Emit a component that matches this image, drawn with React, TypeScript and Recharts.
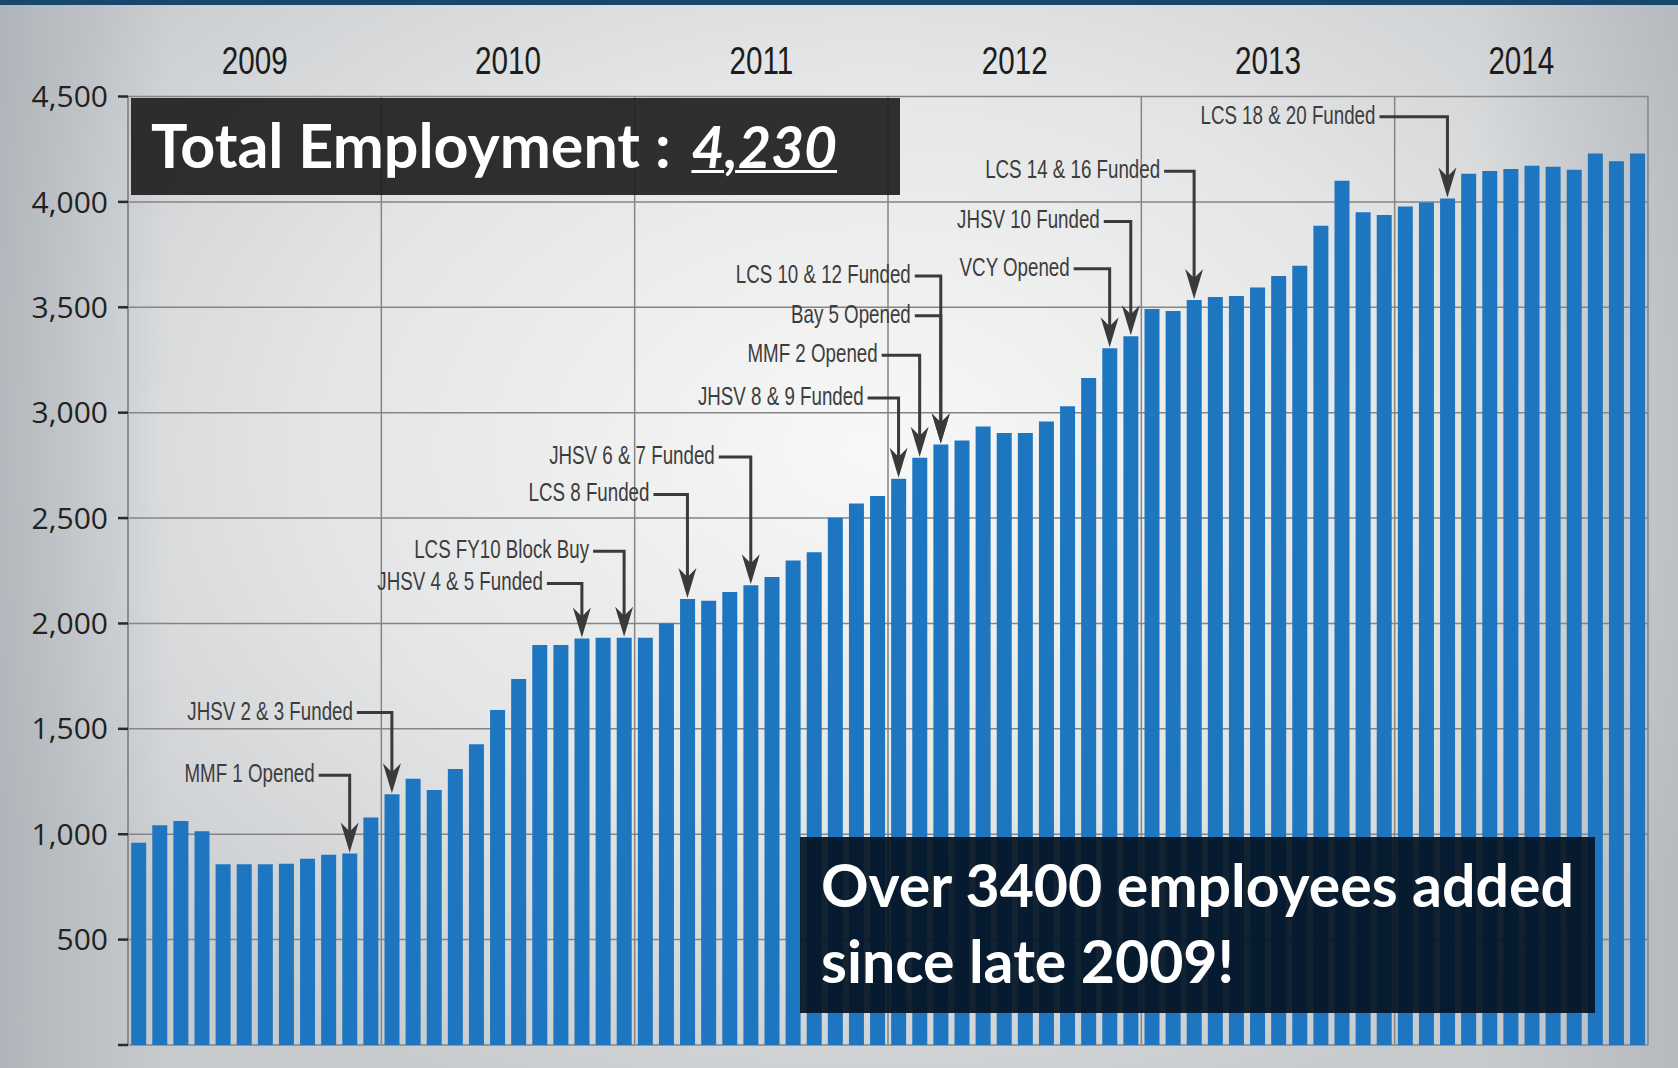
import React from "react"
import { ComposedChart, Bar, XAxis, YAxis, CartesianGrid, ReferenceLine } from "recharts"

const years = ["2009", "2010", "2011", "2012", "2013", "2014"]
const monthNames = ["Jan", "Feb", "Mar", "Apr", "May", "Jun", "Jul", "Aug", "Sep", "Oct", "Nov", "Dec"]

// monthly headcount, Jan 2009 .. Dec 2014
const employees2009 = [960, 1043, 1063, 1014, 857, 857, 857, 860, 884, 903, 908, 1079]
const employees2010 = [1190, 1263, 1210, 1310, 1427, 1589, 1737, 1898, 1898, 1928, 1932, 1932]
const employees2011 = [1932, 2000, 2116, 2108, 2149, 2181, 2220, 2299, 2338, 2502, 2569, 2605]
const employees2012 = [2687, 2786, 2849, 2868, 2934, 2903, 2904, 2958, 3030, 3164, 3306, 3362]
const employees2013 = [3492, 3482, 3535, 3549, 3553, 3594, 3648, 3697, 3887, 4100, 3951, 3938]
const employees2014 = [3978, 3997, 4016, 4134, 4146, 4156, 4172, 4167, 4153, 4229, 4193, 4230]

const yTicks = [0, 500, 1000, 1500, 2000, 2500, 3000, 3500, 4000, 4500]

// milestone callouts: label, month it points at, level of the label line
const milestones = [
  { text: "MMF 1 Opened", month: "2009-Nov", level: 1280 },
  { text: "JHSV 2 & 3 Funded", month: "2010-Jan", level: 1577 },
  { text: "JHSV 4 & 5 Funded", month: "2010-Oct", level: 2190 },
  { text: "LCS FY10 Block Buy", month: "2010-Dec", level: 2343 },
  { text: "LCS 8 Funded", month: "2011-Mar", level: 2612 },
  { text: "JHSV 6 & 7 Funded", month: "2011-Jun", level: 2790 },
  { text: "JHSV 8 & 9 Funded", month: "2012-Jan", level: 3069 },
  { text: "MMF 2 Opened", month: "2012-Feb", level: 3272 },
  { text: "Bay 5 Opened", month: "2012-Mar", level: 3460 },
  { text: "LCS 10 & 12 Funded", month: "2012-Mar", level: 3648 },
  { text: "VCY Opened", month: "2012-Nov", level: 3683 },
  { text: "JHSV 10 Funded", month: "2012-Dec", level: 3907 },
  { text: "LCS 14 & 16 Funded", month: "2013-Mar", level: 4145 },
  { text: "LCS 18 & 20 Funded", month: "2014-Mar", level: 4404 },
]
// horizontal run of each callout line, px
const calloutLead = [35, 39, 39, 35, 38, 36, 35, 42, 30, 30, 40, 31, 34, 72]

const allValues = [employees2009, employees2010, employees2011, employees2012, employees2013, employees2014]
const data = years.flatMap((yr, yi) =>
  monthNames.map((m, mi) => ({ month: `${yr}-${m}`, employees: allValues[yi][mi] }))
)
const valueOf = (month: string) => data.find((d) => d.month === month)!.employees

// year label sits on the Jun/Jul boundary, grid lines on the Jan boundaries
const yearLabelMonths = years.map((y) => `${y}-Jul`)
const yearStartMonths = years.map((y) => `${y}-Jan`)
const lastMonth = data[data.length - 1].month

const condensed = '"Liberation Sans", Arial, sans-serif'
const BAR = "#1e76c0"
const INK = "#3a3a3a"
const GRID = "#858585"

const YearTick = ({ x, y, payload }: any) => (
  <text
    transform={`translate(${x - (payload.offset || 0)},${y}) scale(0.78,1)`}
    textAnchor="middle"
    fontSize={38}
    fill="#1c1c1c"
    fontFamily={condensed}
  >
    {String(payload.value).slice(0, 4)}
  </text>
)

const calloutShape = (text: string, lead: number) => (p: any) => {
  const { x1, y1, y2 } = p
  const tip = y2 - 1
  return (
    <g>
      <text
        transform={`translate(${x1 - lead},${y1 + 7}) scale(0.75,1)`}
        textAnchor="end"
        fontSize={25}
        fill="#3d3d3d"
        fontFamily={condensed}
      >
        {text}
      </text>
      <polyline
        points={`${x1 - lead + 4},${y1} ${x1},${y1} ${x1},${tip - 20}`}
        fill="none"
        stroke={INK}
        strokeWidth={3}
      />
      <path
        d={`M${x1},${tip} L${x1 - 9},${tip - 30} L${x1},${tip - 21} L${x1 + 9},${tip - 30} Z`}
        fill={INK}
      />
    </g>
  )
}

export default function App() {
  return (
    <div
      style={{
        position: "absolute",
        left: 0,
        top: 0,
        width: 1678,
        height: 1068,
        overflow: "hidden",
        background:
          "linear-gradient(to right, rgba(160,167,174,0.6) 0%, rgba(160,167,174,0) 10%, rgba(160,167,174,0) 88%, rgba(160,167,174,0.45) 100%), radial-gradient(ellipse 60% 65% at 52% 42%, #f8f8f8 0%, #e4e5e6 55%, #c8cbce 100%)",
      }}
    >
      <div style={{ position: "absolute", left: 0, top: 0, width: 1678, height: 5, background: "#17476d" }} />
      <ComposedChart
        width={1678}
        height={1068}
        data={data}
        margin={{ top: 36.5, right: 30, bottom: 23, left: 0 }}
        barCategoryGap="15%"
      >
        <CartesianGrid vertical={false} stroke={GRID} strokeWidth={1.5} />
        <XAxis dataKey="month" hide />
        <XAxis
          xAxisId="yr"
          dataKey="month"
          orientation="top"
          ticks={yearLabelMonths}
          interval={0}
          height={60}
          axisLine={false}
          tickLine={false}
          tickSize={0}
          tickMargin={23}
          tick={<YearTick />}
        />
        <YAxis
          domain={[0, 4500]}
          ticks={yTicks}
          interval={0}
          width={128}
          tickSize={10}
          tickMargin={10}
          axisLine={{ stroke: "#8a8a8a", strokeWidth: 1.5 }}
          tickLine={{ stroke: "#2a2a2a", strokeWidth: 2.5 }}
          tick={{ fill: "#222", fontSize: 30, fontFamily: '"Open Sans", sans-serif' }}
          tickFormatter={(v: number) => (v === 0 ? "" : v.toLocaleString("en-US"))}
        />
        {yearStartMonths.map((m) => (
          <ReferenceLine key={m} x={m} position="start" stroke={GRID} strokeWidth={1.5} />
        ))}
        <ReferenceLine x={lastMonth} position="end" stroke={GRID} strokeWidth={1.5} />
        <Bar dataKey="employees" fill={BAR} isAnimationActive={false} />
        {milestones.map((m, i) => (
          <ReferenceLine
            key={m.text}
            segment={[
              { x: m.month, y: m.level },
              { x: m.month, y: valueOf(m.month) },
            ]}
            shape={calloutShape(m.text, calloutLead[i])}
          />
        ))}
      </ComposedChart>
      <div
        style={{
          position: "absolute",
          left: 131,
          top: 98,
          width: 769,
          height: 97,
          background: "rgba(32,32,32,0.93)",
          color: "#fff",
          fontFamily: "Lato, sans-serif",
          fontWeight: 700,
          fontSize: 61,
          lineHeight: 1.2,
          boxSizing: "border-box",
          paddingTop: 10,
          paddingLeft: 20,
          whiteSpace: "pre",
        }}
      >
        {"Total Employment : "}
        <span
          style={{
            marginLeft: 6,
            fontSize: 57,
            fontStyle: "italic",
            textDecoration: "underline",
            textDecorationThickness: 3,
          }}
        >
          4,230
        </span>
      </div>
      <div
        style={{
          position: "absolute",
          left: 800,
          top: 837,
          width: 795,
          height: 176,
          background: "rgba(4,20,36,0.93)",
          color: "#fff",
          fontFamily: "Lato, sans-serif",
          fontWeight: 700,
          fontSize: 59,
          lineHeight: "76px",
          boxSizing: "border-box",
          paddingTop: 10,
          paddingLeft: 21,
        }}
      >
        Over 3400 employees added
        <br />
        since late 2009!
      </div>
    </div>
  )
}
